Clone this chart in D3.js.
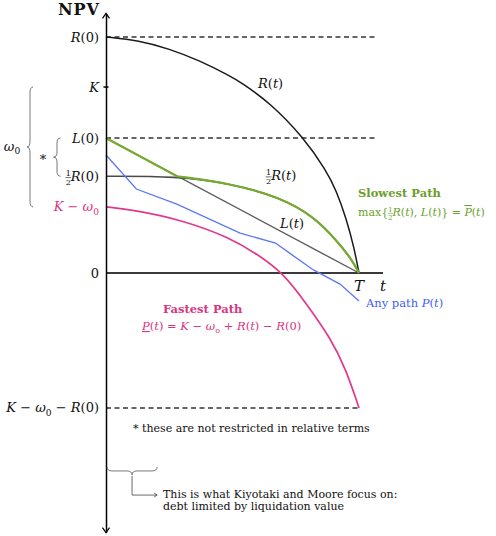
<!DOCTYPE html>
<html lang="en">
<head>
<meta charset="UTF-8">
<title>NPV paths</title>
<script src="https://d3js.org/d3.v7.min.js"></script>
<style>
  body { margin: 0; background: #fff; }
  svg { display: block; }
</style>
</head>
<body>
<svg id="chart" width="496" height="536"></svg>
<script>
// levels on the NPV axis (units: R(0) = 10, time: T = 10)
const levelValues = [10, 7.88, 5.72, 4.1, 2.8, 0, -5.72];
const levelLabels = [
  [["R", "i"], ["(0)"]],
  [["K", "i"]],
  [["L", "i"], ["(0)"]],
  [["", "f"], ["R", "i"], ["(0)"]],
  [["K", "i"], [" − "], ["ω", "i"], ["0", "s"]],
  [["0"]],
  [["K", "i"], [" − "], ["ω", "i"], ["0", "s"], [" − "], ["R", "i"], ["(0)"]]
];
const levelColors = ["#111", "#111", "#111", "#111", "#d8357f", "#111", "#111"];

// R(t)
const rT = [0, 1.3, 2.5, 3.7, 4.9, 5.3, 6.5, 7.8, 8.7, 9.1, 9.5, 9.8, 10];
const rV = [10, 9.85, 9.5, 9.0, 8.35, 8.1, 7.2, 5.75, 4.35, 3.5, 2.3, 1.1, 0];
// 1/2 R(t)
const halfT = [0, 2.8, 4.9, 6.9, 8.2, 9.1, 9.7, 10];
const halfV = [4.1, 4.1, 3.8, 3.2, 2.4, 1.4, 0.6, 0];
// L(t)
const lT = [0, 10];
const lV = [5.72, 0];
// any path P(t)
const pT = [0, 1.2, 2.8, 5.3, 6.7, 7.3, 8.2, 9.25, 10];
const pV = [5.0, 3.56, 2.92, 1.69, 1.27, 0.81, 0.13, -0.47, -1.19];
// fastest path
const fT = [0, 1.1, 3.0, 4.9, 6.0, 7.0, 7.9, 8.85, 9.5, 10];
const fV = [2.8, 2.67, 2.25, 1.5, 0.78, 0, -1.27, -2.71, -4.11, -5.72];
// slowest path = max{1/2 R(t), L(t)}: L up to the crossing, then 1/2 R
const slowT = [lT[0], ...halfT.slice(1)];
const slowV = [lV[0], ...halfV.slice(1)];

const FONT = "DejaVu Serif";
const svg = d3.select("#chart").attr("font-family", FONT);
const x = d3.scaleLinear().domain([0, 10]).range([106, 359]);
const y = d3.scaleLinear().domain([-11, 11]).range([532.6, 13.4]);

const pts = (ts, vs) => ts.map((t, i) => [x(t), y(vs[i])]);
const smooth = d3.line().curve(d3.curveBasis);
const straight = d3.line();

// text with italic / subscript / fraction parts
function rich(g, px, py, parts, fs, anchor, color, weight) {
  const t = g.append("text").attr("x", px).attr("y", py)
    .attr("font-family", FONT)
    .attr("font-size", fs).attr("text-anchor", anchor || "start")
    .attr("fill", color || "#111").attr("font-weight", weight || "normal");
  let shift = 0, n = 0;
  const fracs = [];
  parts.forEach(([s, st]) => {
    if (st === "f") {
      const sm = fs * 0.62;
      t.append("tspan").attr("font-size", sm).attr("dy", -fs * 0.38 - shift).text("1");
      t.append("tspan").attr("font-size", sm).attr("dx", -sm * 0.636).attr("dy", fs * 0.72).text("2");
      shift = fs * 0.34;
      fracs.push([n, sm]);
      n += 2;
      return;
    }
    const target = st === "s" ? fs * 0.25 : 0;
    const sp = t.append("tspan").attr("dy", target - shift).text(s);
    shift = target;
    if (st === "i" || st === "o" || st === "u") sp.attr("font-style", "italic");
    if (st === "s") sp.attr("font-size", fs * 0.7);
    if (st === "o") sp.attr("text-decoration", "overline");
    if (st === "u") sp.attr("text-decoration", "underline");
    n += s.length;
  });
  fracs.forEach(([i, sm]) => {
    const p = t.node().getStartPositionOfChar(i);
    g.append("line")
      .attr("x1", p.x - 0.3).attr("x2", p.x + sm * 0.636 + 0.3)
      .attr("y1", p.y + fs * 0.14).attr("y2", p.y + fs * 0.14)
      .attr("stroke", color || "#111").attr("stroke-width", 0.6);
  });
  return t;
}

// dashed reference lines
svg.append("g").selectAll("line")
  .data([[10, 10.7], [5.72, 10.7], [-5.72, 10]])
  .join("line")
  .attr("x1", x(0)).attr("x2", d => x(d[1]))
  .attr("y1", d => y(d[0])).attr("y2", d => y(d[0]))
  .attr("stroke", "#333").attr("stroke-width", 1.4)
  .attr("stroke-dasharray", "5,3.5");

// time axis
svg.append("line")
  .attr("x1", x(0)).attr("x2", x(10.95))
  .attr("y1", y(0)).attr("y2", y(0))
  .attr("stroke", "#3a3a3a").attr("stroke-width", 2);

// gray L(t) and 1/2 R(t)
svg.append("path").attr("d", straight(pts(lT, lV)))
  .attr("fill", "none").attr("stroke", "#5e5e5e").attr("stroke-width", 1.4);
svg.append("path").attr("d", smooth(pts(halfT, halfV)))
  .attr("fill", "none").attr("stroke", "#4a4a4a").attr("stroke-width", 1.6);

// R(t)
svg.append("path").attr("d", smooth(pts(rT, rV)))
  .attr("fill", "none").attr("stroke", "#1a1a1a").attr("stroke-width", 1.5);

// fastest path
svg.append("path").attr("d", smooth(pts(fT, fV)))
  .attr("fill", "none").attr("stroke", "#e2388c").attr("stroke-width", 1.7);

// any path
svg.append("path").attr("d", straight(pts(pT, pV)))
  .attr("fill", "none").attr("stroke", "#5b78f6").attr("stroke-width", 1.3);

// slowest path
svg.append("path")
  .attr("d", straight(pts(slowT.slice(0, 2), slowV.slice(0, 2))) +
    smooth(pts(slowT.slice(1), slowV.slice(1))).replace(/^M/, "L"))
  .attr("fill", "none").attr("stroke", "#76ab2e").attr("stroke-width", 2.2);

// NPV axis with arrows at both ends
const ax = svg.append("g")
  .attr("transform", `translate(${x(0)},0)`)
  .call(d3.axisLeft(y).tickValues([]).tickSizeOuter(0));
ax.select(".domain").attr("stroke", "#000").attr("stroke-width", 1.5);
const arrow = (yy, dir) => `M-3.5,${yy + dir * 5} L0,${yy} L3.5,${yy + dir * 5}`;
ax.append("path").attr("d", arrow(y(11), 1))
  .attr("fill", "none").attr("stroke", "#000").attr("stroke-width", 1.2);
ax.append("path").attr("d", arrow(y(-11), -1))
  .attr("fill", "none").attr("stroke", "#000").attr("stroke-width", 1.2);
ax.append("line").attr("x1", -2.5).attr("x2", 2.5)
  .attr("y1", y(levelValues[1])).attr("y2", y(levelValues[1]))
  .attr("stroke", "#000").attr("stroke-width", 1.5);

// level labels
levelValues.forEach((v, i) => {
  rich(svg, 99, y(v) + 4.5, levelLabels[i], 13, "end", levelColors[i]);
});
svg.append("text").attr("x", 100).attr("y", 15)
  .attr("text-anchor", "end").attr("font-size", 16).attr("font-weight", "bold")
  .attr("letter-spacing", 1).attr("fill", "#111")
  .text("NPV");

// braces
function vBrace(xs, y1, y2, w, r) {
  const ym = (y1 + y2) / 2;
  return `M${xs + w},${y1} Q${xs},${y1} ${xs},${y1 + r} L${xs},${ym - r} ` +
    `Q${xs},${ym} ${xs - w},${ym} Q${xs},${ym} ${xs},${ym + r} ` +
    `L${xs},${y2 - r} Q${xs},${y2} ${xs + w},${y2}`;
}
function hBrace(x1, x2, ys, h, r) {
  const xm = (x1 + x2) / 2;
  return `M${x1},${ys - h} Q${x1},${ys} ${x1 + r},${ys} L${xm - r},${ys} ` +
    `Q${xm},${ys} ${xm},${ys + h} Q${xm},${ys} ${xm + r},${ys} ` +
    `L${x2 - r},${ys} Q${x2},${ys} ${x2},${ys - h}`;
}
svg.append("path").attr("d", vBrace(30, y(levelValues[1]), y(levelValues[4]), 3, 6))
  .attr("fill", "none").attr("stroke", "#555").attr("stroke-width", 0.8);
svg.append("path").attr("d", vBrace(57, y(levelValues[2]), y(levelValues[3]), 3.5, 5))
  .attr("fill", "none").attr("stroke", "#555").attr("stroke-width", 0.8);
rich(svg, 12, (y(levelValues[1]) + y(levelValues[4])) / 2 + 4, [["ω", "i"], ["0", "s"]], 13, "middle");
rich(svg, 43, (y(levelValues[2]) + y(levelValues[3])) / 2 + 7, [["*"]], 13, "middle");

// curve labels
rich(svg, 258, 88, [["R", "i"], ["("], ["t", "i"], [")"]], 13);
rich(svg, 266, 180, [["", "f"], ["R", "i"], ["("], ["t", "i"], [")"]], 13);
rich(svg, 280, 228, [["L", "i"], ["("], ["t", "i"], [")"]], 13);
rich(svg, x(10), y(0) + 18, [["T", "i"]], 15, "middle");
rich(svg, x(10.95), y(0) + 18, [["t", "i"]], 15, "middle");

// slowest path note
const green = "#6c9e2c";
rich(svg, 358, 197, [["Slowest Path"]], 11.5, "start", green, "bold");
rich(svg, 358, 216, [["max{"], ["", "f"], ["R", "i"], ["("], ["t", "i"], ["), "],
  ["L", "i"], ["("], ["t", "i"], [")} = "], ["P", "o"], ["("], ["t", "i"], [")"]], 11, "start", green);

// any path note
const blue = "#3d5ef2";
rich(svg, 366, 307, [["Any path "], ["P", "i"], ["("], ["t", "i"], [")"]], 11.5, "start", blue);

// fastest path note
const pink = "#d8357f";
rich(svg, 163, 313, [["Fastest Path"]], 11.5, "start", pink, "bold");
rich(svg, 142, 330, [["P", "u"], ["("], ["t", "i"], [") = "], ["K", "i"], [" − "], ["ω", "i"],
  ["o", "s"], [" + "], ["R", "i"], ["("], ["t", "i"], [") − "], ["R", "i"], ["(0)"]], 11.5, "start", pink);

// footnote
rich(svg, 133, 432, [["* these are not restricted in relative terms"]], 11);

// Kiyotaki-Moore note
svg.append("path").attr("d", hBrace(x(0.04), x(2.02), y(-8.26) + 3, 4, 5))
  .attr("fill", "none").attr("stroke", "#555").attr("stroke-width", 0.8);
svg.append("path")
  .attr("d", `M${x(1.03)},${y(-8.26) + 8} L${x(1.03)},${y(-9.41)} L${x(2.02)},${y(-9.41)}`)
  .attr("fill", "none").attr("stroke", "#444").attr("stroke-width", 0.8);
svg.append("path")
  .attr("d", `M${x(2.02) - 3},${y(-9.41) - 2} L${x(2.02)},${y(-9.41)} L${x(2.02) - 3},${y(-9.41) + 2}`)
  .attr("fill", "none").attr("stroke", "#444").attr("stroke-width", 0.8);
rich(svg, 163, 497.5, [["This is what Kiyotaki and Moore focus on:"]], 11);
rich(svg, 163, 509.5, [["debt limited by liquidation value"]], 11);
</script>
</body>
</html>
